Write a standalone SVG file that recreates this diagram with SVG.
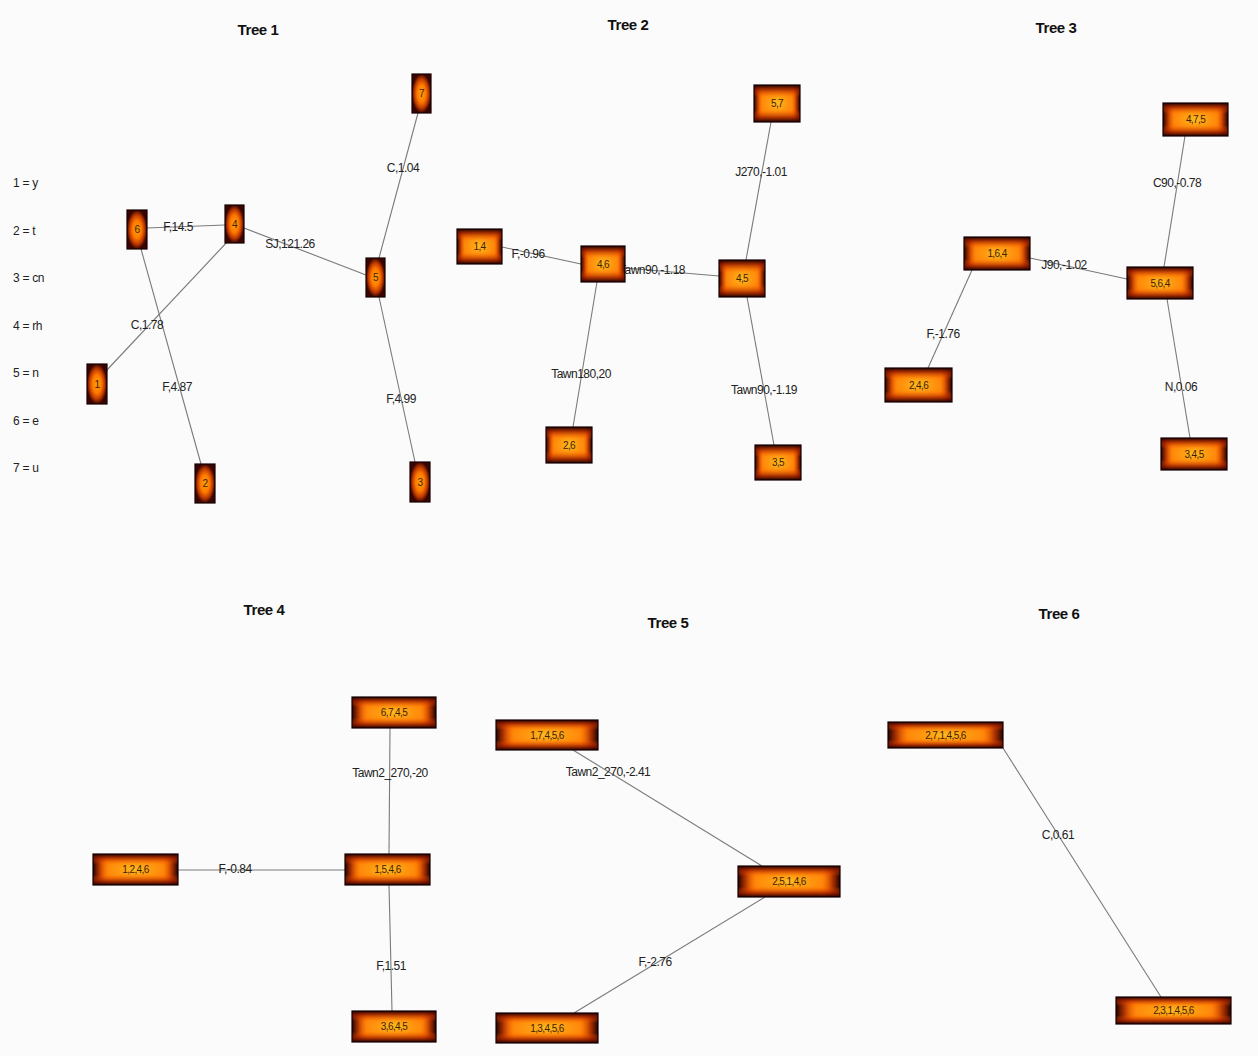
<svg xmlns="http://www.w3.org/2000/svg" width="1258" height="1056" viewBox="0 0 1258 1056">
<style>
.title{font-family:"Liberation Sans",Arial,sans-serif;font-size:15px;font-weight:bold;fill:#111;text-anchor:middle;letter-spacing:-0.4px}
.leg{font-family:"Liberation Sans",Arial,sans-serif;font-size:12px;fill:#222;letter-spacing:-0.3px}
.el{font-family:"Liberation Sans",Arial,sans-serif;font-size:12px;fill:#222;text-anchor:middle;letter-spacing:-0.5px}
.nl{font-family:"Liberation Sans",Arial,sans-serif;font-size:10px;fill:#3e2200;text-anchor:middle;letter-spacing:-0.6px}
.b0{fill:url(#core);stroke:none}
.bh{fill:url(#edgeH);stroke:none}
.bv{fill:url(#edgeV);stroke:#150000;stroke-width:1.2}
.bn{fill:url(#glow);stroke:#150000;stroke-width:1.2}
.edge{stroke:#7a7a7a;stroke-width:1.1;fill:none}
</style>
<defs>
<radialGradient id="glow" cx="0.5" cy="0.5" r="0.5">
<stop offset="0" stop-color="#ffa20a"/>
<stop offset="0.45" stop-color="#ff7a00"/>
<stop offset="0.75" stop-color="#c03a00"/>
<stop offset="1" stop-color="#3a0500"/>
</radialGradient>
<radialGradient id="core" cx="0.5" cy="0.5" r="0.55">
<stop offset="0" stop-color="#ffbb22"/>
<stop offset="0.35" stop-color="#ff9a10"/>
<stop offset="1" stop-color="#ff6e00"/>
</radialGradient>
<linearGradient id="edgeH" x1="0" y1="0" x2="1" y2="0">
<stop offset="0" stop-color="#1a0000" stop-opacity="1"/>
<stop offset="0.07" stop-color="#8a1800" stop-opacity="0.75"/>
<stop offset="0.18" stop-color="#ff5a00" stop-opacity="0"/>
<stop offset="0.82" stop-color="#ff5a00" stop-opacity="0"/>
<stop offset="0.93" stop-color="#8a1800" stop-opacity="0.75"/>
<stop offset="1" stop-color="#1a0000" stop-opacity="1"/>
</linearGradient>
<linearGradient id="edgeV" x1="0" y1="0" x2="0" y2="1">
<stop offset="0" stop-color="#1a0000" stop-opacity="1"/>
<stop offset="0.12" stop-color="#8a1800" stop-opacity="0.75"/>
<stop offset="0.33" stop-color="#ff5a00" stop-opacity="0"/>
<stop offset="0.67" stop-color="#ff5a00" stop-opacity="0"/>
<stop offset="0.88" stop-color="#8a1800" stop-opacity="0.75"/>
<stop offset="1" stop-color="#1a0000" stop-opacity="1"/>
</linearGradient>
</defs>
<rect width="1258" height="1056" fill="#fbfbfb"/>
<g id="titles">
<text class="title" x="258" y="35">Tree 1</text>
<text class="title" x="628" y="30">Tree 2</text>
<text class="title" x="1056" y="33">Tree 3</text>
<text class="title" x="264" y="615">Tree 4</text>
<text class="title" x="668" y="628">Tree 5</text>
<text class="title" x="1059" y="619">Tree 6</text>
</g>
<g id="legend">
<text class="leg" x="13" y="187">1 = y</text>
<text class="leg" x="13" y="235">2 = t</text>
<text class="leg" x="13" y="282">3 = cn</text>
<text class="leg" x="13" y="330">4 = rh</text>
<text class="leg" x="13" y="377">5 = n</text>
<text class="leg" x="13" y="425">6 = e</text>
<text class="leg" x="13" y="472">7 = u</text>
</g>
<g id="connectors">
<line class="edge" x1="147" y1="228" x2="225" y2="225"/>
<line class="edge" x1="244" y1="228" x2="366" y2="275"/>
<line class="edge" x1="229" y1="240" x2="106" y2="371"/>
<line class="edge" x1="141" y1="249" x2="201" y2="464"/>
<line class="edge" x1="418" y1="113" x2="379" y2="258"/>
<line class="edge" x1="379" y1="297" x2="415" y2="462"/>
<line class="edge" x1="502" y1="247" x2="581" y2="264"/>
<line class="edge" x1="625" y1="268" x2="719" y2="276"/>
<line class="edge" x1="771" y1="122" x2="746" y2="260"/>
<line class="edge" x1="597" y1="282" x2="573" y2="427"/>
<line class="edge" x1="747" y1="297" x2="774" y2="445"/>
<line class="edge" x1="1185" y1="136" x2="1164" y2="267"/>
<line class="edge" x1="1030" y1="258" x2="1127" y2="279"/>
<line class="edge" x1="972" y1="270" x2="928" y2="368"/>
<line class="edge" x1="1167" y1="299" x2="1190" y2="438"/>
<line class="edge" x1="390" y1="728" x2="389" y2="854"/>
<line class="edge" x1="178" y1="870" x2="345" y2="870"/>
<line class="edge" x1="389" y1="885" x2="392" y2="1011"/>
<line class="edge" x1="573" y1="750" x2="762" y2="866"/>
<line class="edge" x1="765" y1="897" x2="574" y2="1013"/>
<line class="edge" x1="1003" y1="748" x2="1161" y2="997"/>
<text class="el" x="178" y="231">F,14.5</text>
<text class="el" x="290" y="248">SJ,121.26</text>
<text class="el" x="147" y="329">C,1.78</text>
<text class="el" x="177" y="391">F,4.87</text>
<text class="el" x="403" y="172">C,1.04</text>
<text class="el" x="401" y="403">F,4.99</text>
<text class="el" x="528" y="258">F,-0.96</text>
<text class="el" x="652" y="274">Tawn90,-1.18</text>
<text class="el" x="761" y="176">J270,-1.01</text>
<text class="el" x="581" y="378">Tawn180,20</text>
<text class="el" x="764" y="394">Tawn90,-1.19</text>
<text class="el" x="1177" y="187">C90,-0.78</text>
<text class="el" x="1064" y="269">J90,-1.02</text>
<text class="el" x="943" y="338">F,-1.76</text>
<text class="el" x="1181" y="391">N,0.06</text>
<text class="el" x="390" y="777">Tawn2_270,-20</text>
<text class="el" x="235" y="873">F,-0.84</text>
<text class="el" x="391" y="970">F,1.51</text>
<text class="el" x="608" y="776">Tawn2_270,-2.41</text>
<text class="el" x="655" y="966">F,-2.76</text>
<text class="el" x="1058" y="839">C,0.61</text>
</g>
<g id="t1n7"><rect class="bn" x="412" y="74" width="19" height="39"/><text class="nl" x="421.5" y="97">7</text></g>
<g id="t1n6"><rect class="bn" x="127" y="210" width="20" height="39"/><text class="nl" x="137" y="233">6</text></g>
<g id="t1n4"><rect class="bn" x="225" y="205" width="19" height="38"/><text class="nl" x="234.5" y="228">4</text></g>
<g id="t1n5"><rect class="bn" x="366" y="258" width="19" height="39"/><text class="nl" x="375.5" y="281">5</text></g>
<g id="t1n1"><rect class="bn" x="87" y="364" width="20" height="40"/><text class="nl" x="97" y="388">1</text></g>
<g id="t1n2"><rect class="bn" x="195" y="464" width="20" height="39"/><text class="nl" x="205" y="487">2</text></g>
<g id="t1n3"><rect class="bn" x="410" y="462" width="20" height="40"/><text class="nl" x="420" y="486">3</text></g>
<g id="t2n57"><rect class="b0" x="754" y="85" width="46" height="37"/><rect class="bh" x="754" y="85" width="46" height="37"/><rect class="bv" x="754" y="85" width="46" height="37"/><text class="nl" x="777" y="107">5,7</text></g>
<g id="t2n14"><rect class="b0" x="457" y="229" width="45" height="35"/><rect class="bh" x="457" y="229" width="45" height="35"/><rect class="bv" x="457" y="229" width="45" height="35"/><text class="nl" x="479.5" y="250">1,4</text></g>
<g id="t2n46"><rect class="b0" x="581" y="246" width="44" height="36"/><rect class="bh" x="581" y="246" width="44" height="36"/><rect class="bv" x="581" y="246" width="44" height="36"/><text class="nl" x="603" y="268">4,6</text></g>
<g id="t2n45"><rect class="b0" x="719" y="260" width="46" height="37"/><rect class="bh" x="719" y="260" width="46" height="37"/><rect class="bv" x="719" y="260" width="46" height="37"/><text class="nl" x="742" y="282">4,5</text></g>
<g id="t2n26"><rect class="b0" x="546" y="427" width="46" height="36"/><rect class="bh" x="546" y="427" width="46" height="36"/><rect class="bv" x="546" y="427" width="46" height="36"/><text class="nl" x="569" y="449">2,6</text></g>
<g id="t2n35"><rect class="b0" x="755" y="445" width="46" height="35"/><rect class="bh" x="755" y="445" width="46" height="35"/><rect class="bv" x="755" y="445" width="46" height="35"/><text class="nl" x="778" y="466">3,5</text></g>
<g id="t3n475"><rect class="b0" x="1163" y="103" width="65" height="33"/><rect class="bh" x="1163" y="103" width="65" height="33"/><rect class="bv" x="1163" y="103" width="65" height="33"/><text class="nl" x="1195.5" y="123">4,7,5</text></g>
<g id="t3n164"><rect class="b0" x="964" y="237" width="66" height="33"/><rect class="bh" x="964" y="237" width="66" height="33"/><rect class="bv" x="964" y="237" width="66" height="33"/><text class="nl" x="997" y="257">1,6,4</text></g>
<g id="t3n564"><rect class="b0" x="1127" y="267" width="66" height="32"/><rect class="bh" x="1127" y="267" width="66" height="32"/><rect class="bv" x="1127" y="267" width="66" height="32"/><text class="nl" x="1160" y="287">5,6,4</text></g>
<g id="t3n246"><rect class="b0" x="885" y="368" width="67" height="34"/><rect class="bh" x="885" y="368" width="67" height="34"/><rect class="bv" x="885" y="368" width="67" height="34"/><text class="nl" x="918.5" y="389">2,4,6</text></g>
<g id="t3n345"><rect class="b0" x="1161" y="438" width="66" height="32"/><rect class="bh" x="1161" y="438" width="66" height="32"/><rect class="bv" x="1161" y="438" width="66" height="32"/><text class="nl" x="1194" y="458">3,4,5</text></g>
<g id="t4n6745"><rect class="b0" x="352" y="697" width="84" height="31"/><rect class="bh" x="352" y="697" width="84" height="31"/><rect class="bv" x="352" y="697" width="84" height="31"/><text class="nl" x="394" y="716">6,7,4,5</text></g>
<g id="t4n1246"><rect class="b0" x="93" y="854" width="85" height="31"/><rect class="bh" x="93" y="854" width="85" height="31"/><rect class="bv" x="93" y="854" width="85" height="31"/><text class="nl" x="135.5" y="873">1,2,4,6</text></g>
<g id="t4n1546"><rect class="b0" x="345" y="854" width="85" height="31"/><rect class="bh" x="345" y="854" width="85" height="31"/><rect class="bv" x="345" y="854" width="85" height="31"/><text class="nl" x="387.5" y="873">1,5,4,6</text></g>
<g id="t4n3645"><rect class="b0" x="352" y="1011" width="84" height="31"/><rect class="bh" x="352" y="1011" width="84" height="31"/><rect class="bv" x="352" y="1011" width="84" height="31"/><text class="nl" x="394" y="1030">3,6,4,5</text></g>
<g id="t5n17456"><rect class="b0" x="496" y="720" width="102" height="30"/><rect class="bh" x="496" y="720" width="102" height="30"/><rect class="bv" x="496" y="720" width="102" height="30"/><text class="nl" x="547" y="739">1,7,4,5,6</text></g>
<g id="t5n25146"><rect class="b0" x="738" y="866" width="102" height="31"/><rect class="bh" x="738" y="866" width="102" height="31"/><rect class="bv" x="738" y="866" width="102" height="31"/><text class="nl" x="789" y="885">2,5,1,4,6</text></g>
<g id="t5n13456"><rect class="b0" x="496" y="1013" width="102" height="30"/><rect class="bh" x="496" y="1013" width="102" height="30"/><rect class="bv" x="496" y="1013" width="102" height="30"/><text class="nl" x="547" y="1032">1,3,4,5,6</text></g>
<g id="t6n271456"><rect class="b0" x="888" y="722" width="115" height="26"/><rect class="bh" x="888" y="722" width="115" height="26"/><rect class="bv" x="888" y="722" width="115" height="26"/><text class="nl" x="945.5" y="739">2,7,1,4,5,6</text></g>
<g id="t6n231456"><rect class="b0" x="1116" y="997" width="115" height="27"/><rect class="bh" x="1116" y="997" width="115" height="27"/><rect class="bv" x="1116" y="997" width="115" height="27"/><text class="nl" x="1173.5" y="1014">2,3,1,4,5,6</text></g>
</svg>
